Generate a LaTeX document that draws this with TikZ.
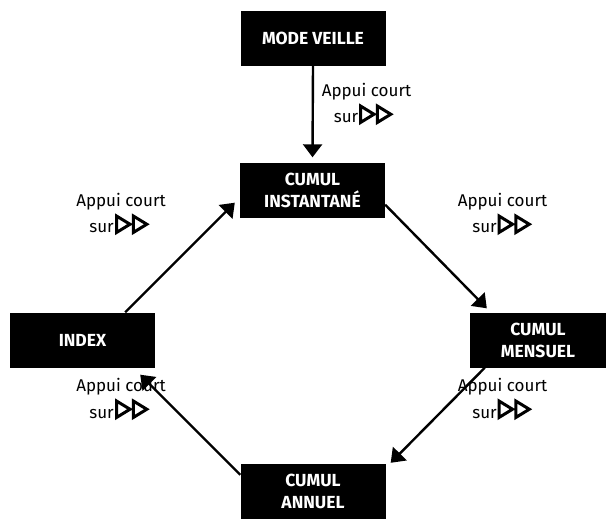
\documentclass[tikz,border=0pt]{standalone}
\usepackage{fontspec}
\setmainfont{Fira Sans}
\usetikzlibrary{arrows.meta}

\tikzset{avance/.pic={
    \draw[line width=3pt, line join=miter] (1.5,-0.5) -- (1.5,-17) -- (15,-8.75) -- cycle
      (18.3,-0.5) -- (18.3,-17) -- (31.8,-8.75) -- cycle;}}

\begin{document}
\begin{tikzpicture}[x=1pt, y=-1pt,
    etat/.style={fill=black, text=white, font=\fontsize{17.5}{22}\selectfont\bfseries,
      align=center, minimum width=145pt, minimum height=55pt, inner sep=0pt},
    appui/.style={inner sep=0pt, font=\fontsize{17}{20}\selectfont},
    fleche/.style={line width=2.4pt, -{Triangle[length=13pt, width=19pt]}}]
      \useasboundingbox (0,0) rectangle (606,519);
      \node[etat] (veille) at (313, 38.5) {MODE VEILLE};
      \node[etat] (inst) at (312.5, 190) {CUMUL\\INSTANTANÉ};
      \node[etat, minimum width=136pt] (mens) at (538, 340) {CUMUL\\MENSUEL};
      \node[etat] (index) at (82.5, 340) {INDEX};
      \node[etat] (annuel) at (313, 491.5) {CUMUL\\ANNUEL};
      \draw[fleche] (veille.south) -- ([yshift=5pt]inst.north);
      \draw[fleche] ([yshift=13pt]inst.south east) -- ([xshift=17pt, yshift=4pt]mens.north west);
      \draw[fleche] ([xshift=15pt]mens.south west) -- ([xshift=5pt, yshift=1pt]annuel.north east);
      \draw[fleche] ([yshift=-11pt]annuel.north west) -- ([xshift=-15pt, yshift=-7pt]index.south east);
      \draw[fleche] ([xshift=-30pt]index.north east) -- ([xshift=-5pt, yshift=15pt]inst.south west);
      % libelles
      \node[appui, anchor=base] (a1) at (366.5, 96) {Appui court};
      \node[appui, anchor=base east] (s1) at (358.5, 123) {sur};
      \pic at (359, 123) {avance};
      \node[appui, anchor=base] (a2) at (502.5, 206) {Appui court};
      \node[appui, anchor=base east] (s2) at (497, 233) {sur};
      \pic at (497.5, 233) {avance};
      \node[appui, anchor=base] (a3) at (502.5, 391) {Appui court};
      \node[appui, anchor=base east] (s3) at (497, 418) {sur};
      \pic at (497.5, 418) {avance};
      \node[appui, anchor=base] (a4) at (121, 391) {Appui court};
      \node[appui, anchor=base east] (s4) at (114, 418) {sur};
      \pic at (115, 418) {avance};
      \node[appui, anchor=base] (a5) at (121, 206) {Appui court};
      \node[appui, anchor=base east] (s5) at (114, 233) {sur};
      \pic at (115, 233) {avance};
    \end{tikzpicture}
\end{document}
